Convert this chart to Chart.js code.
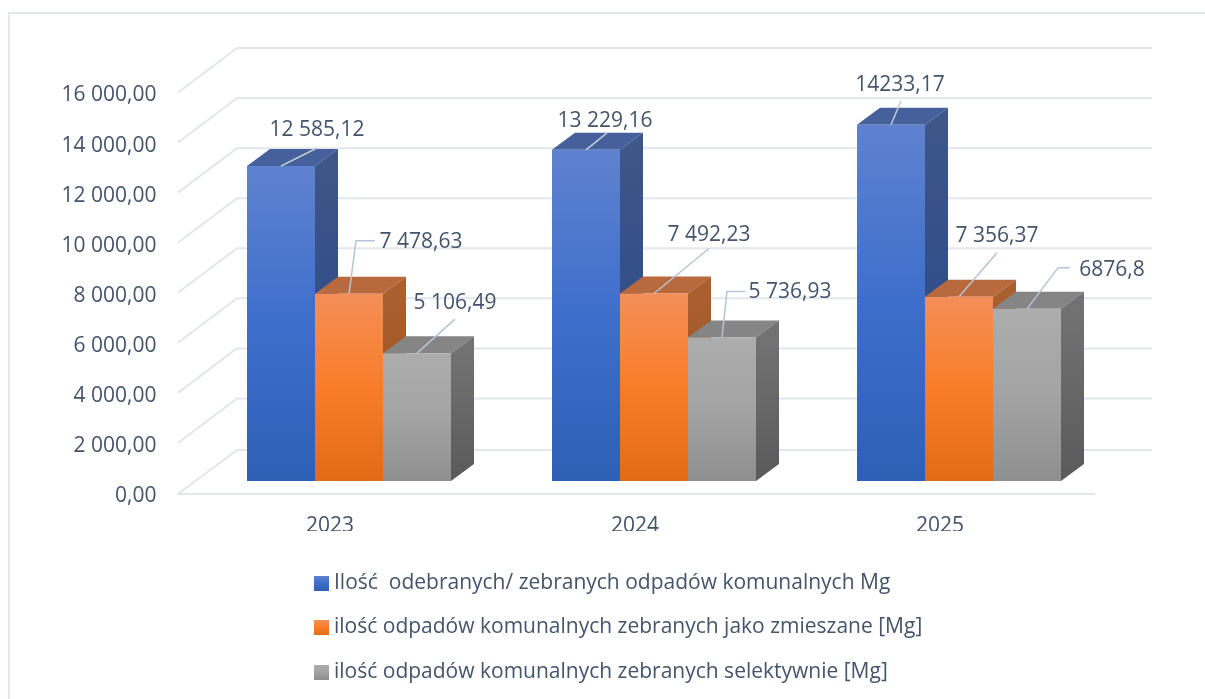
<!DOCTYPE html>
<html lang="pl">
<head>
<meta charset="utf-8">
<style>html,body{margin:0;padding:0;background:#fff;overflow:hidden}#wrap{width:1205px;height:699px;position:relative}</style>
<script src="https://cdn.jsdelivr.net/npm/chart.js@4/dist/chart.umd.min.js"></script>
</head>
<body>
<div id="wrap"><canvas id="c" width="1205" height="699"></canvas></div>
<script>
// ---- data ----
const categories = ['2023', '2024', '2025'];
const seriesNames = [
  'Ilość  odebranych/ zebranych odpadów komunalnych Mg',
  'ilość odpadów komunalnych zebranych jako zmieszane [Mg]',
  'ilość odpadów komunalnych zebranych selektywnie [Mg]'
];
const collected = [12585.12, 13229.16, 14233.17];
const mixed = [7478.63, 7492.23, 7356.37];
const selective = [5106.49, 5736.93, 6876.8];
const collectedLabels = ['12 585,12', '13 229,16', '14233,17'];
const mixedLabels = ['7 478,63', '7 492,23', '7 356,37'];
const selectiveLabels = ['5 106,49', '5 736,93', '6876,8'];
const tickLabels = ['0,00', '2 000,00', '4 000,00', '6 000,00', '8 000,00', '10 000,00', '12 000,00', '14 000,00', '16 000,00'];

// ---- styling ----
const FONT = '"Open Sans", sans-serif';
const TEXT = '#44546a';
const GRID = '#e4e6ed';
const LEADER = '#b7c4d5';
const DEPTH = {x: 23, y: -17};
const palettes = [
  {front: ['#5f82cf', '#3d6ecb', '#2e60b6'], top: '#46609c', side: ['#3e5688', '#24468c']},
  {front: ['#f48e58', '#f97d28', '#e36b15'], top: '#b86a3e', side: ['#a95f30', '#9a4e16']},
  {front: ['#adadad', '#a3a3a3', '#8f8f8f'], top: '#858585', side: ['#727272', '#5a5a5a']}
];
// label centre and leader bend points, relative to the top-centre of each bar
const placements = [
  [{l: [36, -36], p: [[36, -18]]}, {l: [19, -29], p: [[21, -17]]}, {l: [9, -40], p: [[10, -24]]}],
  [{l: [72, -52], p: [[7, -53], [26, -53]]}, {l: [55, -58], p: [[55, -45]]}, {l: [38, -61], p: [[38, -44]]}],
  [{l: [38, -50], p: [[38, -34]]}, {l: [68, -45], p: [[5, -46], [23, -46]]}, {l: [85, -39], p: [[31, -41], [43, -41]]}]
];
const allLabels = [collectedLabels, mixedLabels, selectiveLabels];

function vGrad(ctx, y0, y1, stops) {
  const g = ctx.createLinearGradient(0, y0, 0, y1);
  stops.forEach((s, i) => g.addColorStop(i / (stops.length - 1), s));
  return g;
}
function swatch(stops) {
  const cv = document.createElement('canvas');
  cv.width = 15; cv.height = 15;
  const x = cv.getContext('2d');
  x.fillStyle = vGrad(x, 0, 15, stops);
  x.fillRect(0, 0, 15, 15);
  return cv;
}
const swatches = palettes.map(p => swatch(p.front));

function frontColor(seriesIndex) {
  return function (c) {
    const y = c.chart.scales.y;
    if (!y || c.raw === undefined) return palettes[seriesIndex].front[1];
    return vGrad(c.chart.ctx, y.getPixelForValue(c.raw), y.getPixelForValue(0), palettes[seriesIndex].front);
  };
}
function line(ctx, pts, color, width) {
  ctx.save();
  ctx.strokeStyle = color; ctx.lineWidth = width; ctx.lineJoin = 'round';
  ctx.beginPath();
  pts.forEach((p, i) => i ? ctx.lineTo(p[0], p[1]) : ctx.moveTo(p[0], p[1]));
  ctx.stroke();
  ctx.restore();
}
function poly(ctx, pts, fill) {
  ctx.fillStyle = fill;
  ctx.beginPath();
  pts.forEach((p, i) => i ? ctx.lineTo(p[0], p[1]) : ctx.moveTo(p[0], p[1]));
  ctx.closePath();
  ctx.fill();
}

const scene3d = {
  id: 'scene3d',
  afterLayout(chart) {
    const lg = chart.legend;
    const pad = chart.options.plugins.legend.labels.padding;
    lg.left = 319.5 - pad;
    lg.top = 572.5 - pad;
    lg.right = 1205;
    lg.bottom = 900;
  },
  beforeDraw(chart) {
    const ctx = chart.ctx;
    ctx.save();
    ctx.fillStyle = '#fff';
    ctx.fillRect(0, 0, 1205, 699);
    ctx.strokeStyle = '#e4e7ee';
    ctx.lineWidth = 2;
    ctx.beginPath();
    ctx.moveTo(9, 699); ctx.lineTo(9, 13); ctx.lineTo(1205, 13);
    ctx.stroke();
    ctx.restore();
  },
  beforeDatasetsDraw(chart) {
    const ctx = chart.ctx, y = chart.scales.y, area = chart.chartArea;
    const frontL = area.left - 18.5, frontR = area.right - 16.5, backL = frontL + 59, backR = frontR + 57;
    // walls and floor
    y.ticks.forEach(t => {
      const py = y.getPixelForValue(t.value);
      if (t.value === 0) line(ctx, [[frontR, py + 13], [frontL, py + 13], [backL, py - 31], [backR, py - 31]], GRID, 2);
      else line(ctx, [[frontL, py + 12], [backL, py - 32.5], [backR, py - 32.5]], GRID, 2);
    });
    // bar depth faces
    ctx.save();
    chart.data.datasets.forEach((ds, si) => {
      chart.getDatasetMeta(si).data.forEach(bar => {
        const half = bar.width / 2, l = bar.x - half, r = bar.x + half, t = bar.y, b = bar.base;
        const dx = DEPTH.x, dy = DEPTH.y;
        poly(ctx, [[l, t], [r, t], [r + dx, t + dy], [l + dx, t + dy]], palettes[si].top);
        poly(ctx, [[r, t], [r + dx, t + dy], [r + dx, b + dy], [r, b]], vGrad(ctx, t, b, palettes[si].side));
      });
    });
    ctx.restore();
  },
  afterDatasetsDraw(chart) {
    const ctx = chart.ctx;
    chart.data.datasets.forEach((ds, si) => {
      chart.getDatasetMeta(si).data.forEach((bar, i) => {
        const pl = placements[si][i];
        const pts = [[bar.x, bar.y]].concat(pl.p.map(q => [bar.x + q[0], bar.y + q[1]]));
        line(ctx, pts, si === 0 ? '#c3cad8' : LEADER, 1.5);
        ctx.save();
        ctx.font = '21px ' + FONT;
        ctx.fillStyle = TEXT;
        ctx.textAlign = 'center';
        ctx.textBaseline = 'middle';
        ctx.fillText(allLabels[si][i], bar.x + pl.l[0], bar.y + pl.l[1]);
        ctx.restore();
      });
    });
  }
};

new Chart(document.getElementById('c'), {
  type: 'bar',
  data: {
    labels: categories,
    datasets: [
      {label: seriesNames[0], data: collected, backgroundColor: frontColor(0)},
      {label: seriesNames[1], data: mixed, backgroundColor: frontColor(1)},
      {label: seriesNames[2], data: selective, backgroundColor: frontColor(2)}
    ]
  },
  plugins: [scene3d],
  options: {
    responsive: false,
    animation: false,
    devicePixelRatio: 1,
    layout: {padding: {left: 0, right: 93.5, top: 80.5, bottom: 168}},
    datasets: {bar: {categoryPercentage: 204 / 305, barPercentage: 1, borderWidth: 0}},
    scales: {
      x: {
        grid: {display: false, drawTicks: false},
        border: {display: false},
        ticks: {color: TEXT, font: {family: FONT, size: 21}, padding: 32, labelOffset: -19, maxRotation: 0},
        afterFit(s) { s.height = 50; }
      },
      y: {
        min: 0, max: 16000,
        grid: {display: false, drawTicks: false},
        border: {display: false},
        ticks: {
          stepSize: 2000, color: TEXT, font: {family: FONT, size: 21}, padding: 40, labelOffset: 15,
          callback: (v, i) => tickLabels[i]
        },
        afterFit(s) { s.width = 196.5; }
      }
    },
    plugins: {
      tooltip: {enabled: false},
      legend: {
        position: 'chartArea',
        align: 'start',
        labels: {
          usePointStyle: true,
          pointStyleWidth: 4,
          padding: 23.5,
          color: TEXT,
          font: {family: FONT, size: 21},
          generateLabels: chart => chart.data.datasets.map((d, i) => ({
            text: d.label, datasetIndex: i, pointStyle: swatches[i], fillStyle: palettes[i].front[1],
            strokeStyle: 'transparent', lineWidth: 0, fontColor: TEXT, hidden: false
          }))
        }
      }
    }
  }
});
</script>
</body>
</html>
